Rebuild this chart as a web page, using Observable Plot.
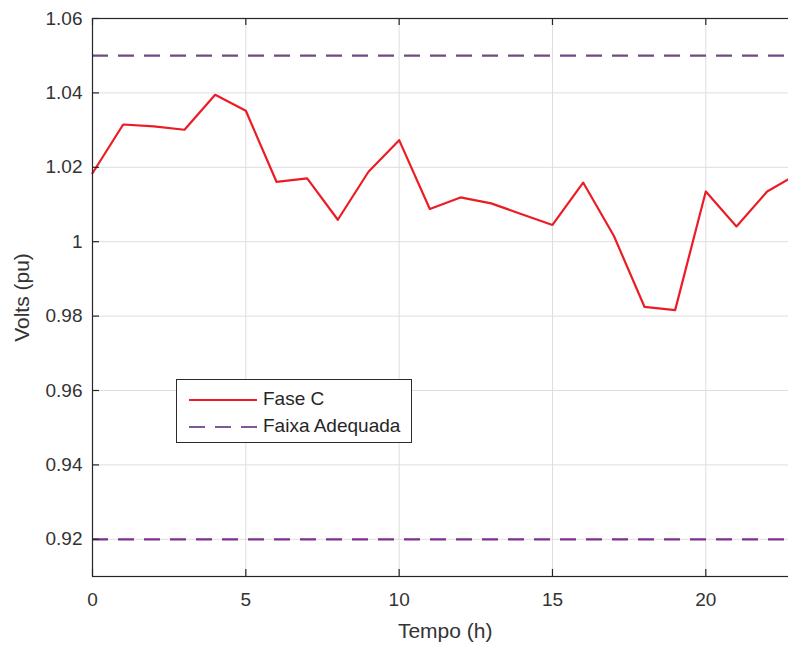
<!DOCTYPE html>
<html>
<head>
<meta charset="utf-8">
<script src="https://cdn.jsdelivr.net/npm/d3@7"></script>
<script src="https://cdn.jsdelivr.net/npm/@observablehq/plot@0.6"></script>
<style>
  html, body { margin: 0; padding: 0; background: #fff; overflow: hidden; }
  #wrap { position: relative; width: 788px; height: 648px; overflow: hidden; background: #fff; font-family: "Liberation Sans", Arial, Helvetica, sans-serif; }
  #chart svg { max-width: none !important; display: block; }
  #legend { position: absolute; left: 176px; top: 379px; width: 234px; height: 62px; border: 1px solid #2b2b2b; background: #fff; }
  #legend .item { position: absolute; left: 0; height: 24px; width: 234px; }
  #legend svg { position: absolute; left: 12px; top: 0; }
  #legend span { position: absolute; left: 86px; top: 0px; font-size: 19px; color: #262626; white-space: nowrap; }
</style>
</head>
<body>
<div id="wrap">
  <div id="chart"></div>
  <div id="legend"></div>
</div>
<script>
// Data
const hours = [0,1,2,3,4,5,6,7,8,9,10,11,12,13,14,15,16,17,18,19,20,21,22,23];
const faseC = [1.0184,1.0315,1.0310,1.0301,1.0395,1.0352,1.0161,1.0170,1.0059,1.0188,1.0273,1.0088,1.0119,1.0103,1.0074,1.0045,1.0159,1.0016,0.9825,0.9816,1.0135,1.0041,1.0135,1.0182];
const limits = [0.92, 1.05];
const xTicks = [0,5,10,15,20];
const yTicks = [0.92,0.94,0.96,0.98,1.00,1.02,1.04,1.06];
const yTickLabels = ["0.92","0.94","0.96","0.98","1","1.02","1.04","1.06"];
const seriesNames = ["Fase C", "Faixa Adequada"];

const data = hours.map((h, i) => ({h, v: faseC[i]}));

const W = 800, H = 648;
const mL = 92, mR = 2.7, mT = 18, mB = 72;
const plotW = W - mL - mR, plotH = H - mT - mB;
const tick = 7;
const ink = "#262626";
const grid = "#dedede";
const red = "#ec1c24";
const purple = "#7E2F8E";

const chart = Plot.plot({
  width: W,
  height: H,
  marginLeft: mL,
  marginRight: mR,
  marginTop: mT,
  marginBottom: mB,
  style: {fontFamily: '"Liberation Sans", Arial, Helvetica, sans-serif', background: "#fff", overflow: "visible", maxWidth: "none"},
  x: {domain: [0, 23], axis: null},
  y: {domain: [0.91, 1.06], axis: null},
  marks: [
    Plot.ruleX(xTicks.filter(d => d > 0), {stroke: grid, strokeWidth: 1}),
    Plot.ruleY(yTicks.filter(d => d < 1.06), {stroke: grid, strokeWidth: 1}),
    Plot.ruleY([limits[1]], {stroke: "#6e4a84", strokeWidth: 2.2, strokeDasharray: "16,10"}),
    Plot.ruleY([limits[0]], {stroke: purple, strokeWidth: 2.2, strokeDasharray: "16,10"}),
    Plot.line(data, {x: "h", y: "v", stroke: red, strokeWidth: 2.2, strokeLinejoin: "round"}),
    Plot.frame({stroke: ink, strokeWidth: 1.2}),
    Plot.tickX(xTicks, {x: d => d, insetTop: plotH - tick, stroke: ink, strokeWidth: 1.2}),
    Plot.tickX(xTicks, {x: d => d, insetBottom: plotH - tick, stroke: ink, strokeWidth: 1.2}),
    Plot.tickY(yTicks, {y: d => d, insetRight: plotW - tick, stroke: ink, strokeWidth: 1.2}),
    Plot.tickY(yTicks, {y: d => d, insetLeft: plotW - tick, stroke: ink, strokeWidth: 1.2}),
    Plot.axisX(xTicks, {tickSize: 0, tickPadding: 16, fontSize: 19, fill: "#333", tickFormat: d => String(d), label: null}),
    Plot.axisY(yTicks, {tickSize: 0, tickPadding: 10, fontSize: 19, fill: "#333", tickFormat: (d, i) => yTickLabels[i], label: null}),
    Plot.text(["Tempo (h)"], {text: d => d, frameAnchor: "bottom", lineAnchor: "middle", textAnchor: "middle", dy: 55, fontSize: 21, fill: "#333"}),
    Plot.text(["Volts (pu)"], {text: d => d, frameAnchor: "left", lineAnchor: "middle", textAnchor: "middle", dx: -70, rotate: -90, fontSize: 21, fill: "#333"})
  ]
});
chart.style.maxWidth = "none";
document.getElementById("chart").appendChild(chart);

// Legend
const legend = document.getElementById("legend");
const styles = [
  {stroke: red, dash: null},
  {stroke: "#7f5a98", dash: "16,10"}
];
seriesNames.forEach((name, i) => {
  const item = document.createElement("div");
  item.className = "item";
  item.style.top = (i === 0 ? 8 : 35) + "px";
  const s = styles[i];
  item.innerHTML = `<svg width="70" height="24"><line x1="0" x2="68" y1="12" y2="12" stroke="${s.stroke}" stroke-width="2.2" ${s.dash ? `stroke-dasharray="${s.dash}"` : ""}/></svg><span>${name}</span>`;
  legend.appendChild(item);
});
</script>
</body>
</html>
